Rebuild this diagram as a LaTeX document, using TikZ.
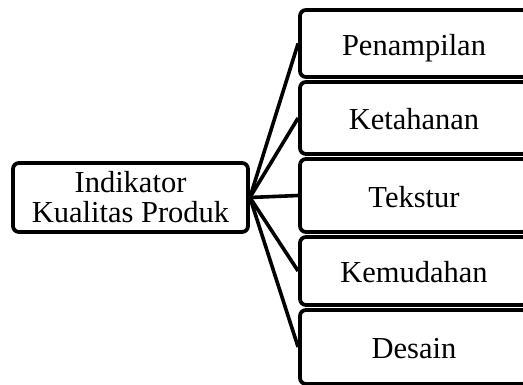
\documentclass[tikz,border=0pt]{standalone}
\usepackage{fontspec}
\setmainfont{Liberation Serif}
\begin{document}
\begin{tikzpicture}[x=1pt,y=-1pt,
  box/.style={draw=black, line width=3.8pt, rounded corners=6pt, fill=white,
    align=center, inner sep=0pt,
    font=\fontsize{30.5}{30}\selectfont},
  item/.style={box, minimum width=228pt, text height=26pt, text depth=2pt},
  link/.style={draw=black, line width=3.6pt}]
\useasboundingbox (0,0) rectangle (523,385);
\fill[white] (0,0) rectangle (523,385);
% root node
\node[box, minimum width=235pt, minimum height=69pt] (root) at (130.5,197.5)
  {Indikator\\Kualitas Produk};
% indicator boxes
\node[item, minimum height=67pt] (a) at (414,43.5) {Penampilan};
\node[item, minimum height=72pt] (b) at (414,118) {Ketahanan};
\node[item, minimum height=73pt] (c) at (414,195.5) {Tekstur};
\node[item, minimum height=68pt] (d) at (414,271) {Kemudahan};
\node[item, minimum height=74pt] (e) at (414,347) {Desain};
% connectors fanning out from the root
\foreach \n in {a,b,c,d,e}
  \draw[link] (root.east) -- (\n.west);
\end{tikzpicture}
\end{document}
